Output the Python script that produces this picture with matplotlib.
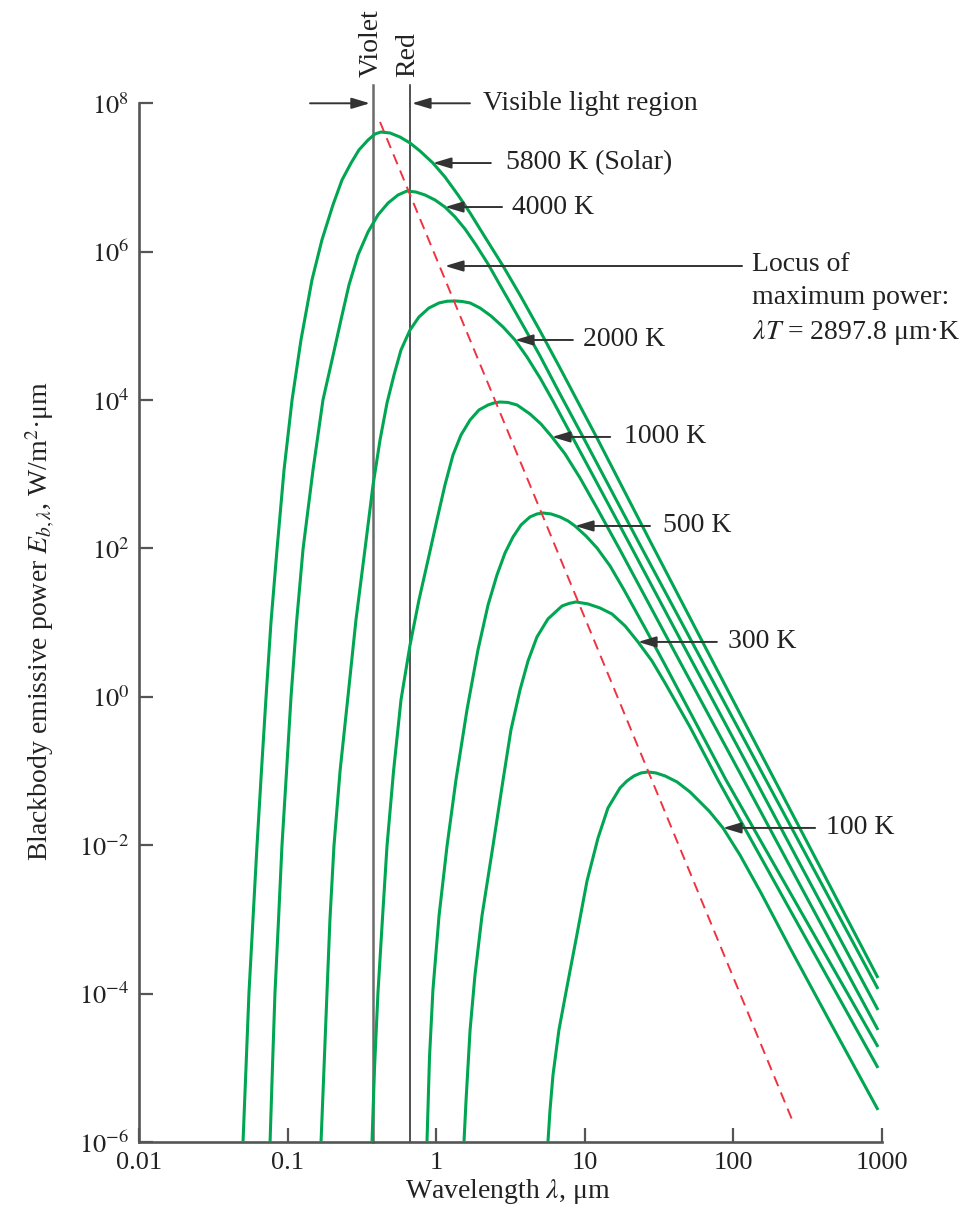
import numpy as np
import matplotlib
matplotlib.use('Agg')
import matplotlib.pyplot as plt

plt.rcParams['font.family'] = ['Liberation Serif', 'DejaVu Serif']
plt.rcParams['mathtext.fontset'] = 'stix'

# log10 of wavelength (um) and log10 of emissive power (W/m2.um)
lx5800 = [-1.300, -1.280, -1.260, -1.233, -1.206, -1.176, -1.145, -1.112, -1.071, -1.024,
          -0.970, -0.910, -0.836, -0.769, -0.695, -0.634, -0.573, -0.520, -0.459, -0.412,
          -0.372, -0.311, -0.244, -0.176, -0.109, -0.022, 0.059, 0.147, 0.228, 0.328,
          0.450, 0.564, 0.699, 0.833, 0.968, 1.082, 1.439, 1.775, 2.179, 2.583, 2.973]
ly5800 = [-6.000, -5.000, -3.991, -3.000, -2.009, -1.000, 0.000, 1.000, 1.993, 3.058,
          4.001, 4.810, 5.619, 6.158, 6.629, 6.966, 7.195, 7.371, 7.505, 7.586,
          7.613, 7.600, 7.546, 7.465, 7.357, 7.195, 7.007, 6.764, 6.522, 6.198,
          5.807, 5.416, 4.931, 4.433, 3.920, 3.489, 2.101, 0.807, -0.743, -2.292, -3.788]

lx4000 = [-1.118, -1.102, -1.085, -1.061, -1.038, -1.007, -0.977, -0.940, -0.896, -0.829,
          -0.762, -0.701, -0.641, -0.587, -0.526, -0.459, -0.392, -0.324, -0.257, -0.197,
          -0.136, -0.075, -0.008, 0.059, 0.127, 0.194, 0.268, 0.349, 0.429, 0.510,
          0.598, 0.699, 0.833, 0.988, 1.372, 1.775, 2.179, 2.583, 2.973]
ly4000 = [-6.000, -5.000, -3.991, -3.000, -2.009, -1.000, 0.000, 1.000, 1.993, 3.058,
          4.001, 4.540, 5.080, 5.551, 5.956, 6.265, 6.495, 6.656, 6.764, 6.818,
          6.804, 6.764, 6.697, 6.602, 6.468, 6.306, 6.090, 5.834, 5.551, 5.268,
          4.958, 4.594, 4.082, 3.503, 2.047, 0.538, -0.972, -2.481, -3.937]

lx2000 = [-0.775, -0.755, -0.735, -0.715, -0.688, -0.647, -0.594, -0.540, -0.479, -0.425,
          -0.378, -0.331, -0.284, -0.237, -0.176, -0.116, -0.049, 0.019, 0.073, 0.127,
          0.174, 0.228, 0.295, 0.369, 0.450, 0.530, 0.611, 0.699, 0.786, 0.880,
          1.237, 1.641, 2.044, 2.448, 2.973]
ly2000 = [-6.000, -5.000, -3.991, -3.000, -2.009, -1.000, 0.000, 1.036, 1.993, 2.856,
          3.462, 3.961, 4.338, 4.675, 4.945, 5.120, 5.241, 5.309, 5.332, 5.336,
          5.329, 5.309, 5.241, 5.133, 4.985, 4.810, 4.581, 4.298, 3.988, 3.637,
          2.303, 0.780, -0.729, -2.252, -4.220]

lx1000 = [-0.432, -0.415, -0.392, -0.362, -0.331, -0.287, -0.237, -0.176, -0.116, -0.055,
          0.005, 0.059, 0.113, 0.167, 0.228, 0.288, 0.349, 0.389, 0.429, 0.483,
          0.544, 0.631, 0.705, 0.779, 0.867, 0.968, 1.089, 1.237, 1.641, 2.044,
          2.448, 2.973]
ly1000 = [-6.000, -5.000, -3.991, -3.000, -2.009, -1.000, -0.042, 0.699, 1.306, 1.845,
          2.384, 2.856, 3.260, 3.530, 3.732, 3.867, 3.934, 3.961, 3.974, 3.968,
          3.934, 3.813, 3.678, 3.503, 3.274, 2.950, 2.519, 1.980, 0.470, -1.026,
          -2.535, -4.489]

lx500 = [-0.062, -0.045, -0.022, 0.019, 0.073, 0.133, 0.207, 0.281, 0.349, 0.409,
         0.463, 0.517, 0.571, 0.631, 0.678, 0.719, 0.773, 0.833, 0.887, 0.934,
         1.008, 1.082, 1.170, 1.264, 1.405, 1.533, 1.950, 2.448, 2.973]
ly500 = [-6.000, -4.853, -3.950, -2.953, -2.009, -1.120, -0.177, 0.632, 1.239, 1.643,
         1.939, 2.155, 2.317, 2.425, 2.465, 2.478, 2.465, 2.425, 2.371, 2.303,
         2.168, 2.007, 1.764, 1.441, 0.929, 0.457, -1.120, -2.872, -4.718]

lx300 = [0.187, 0.201, 0.228, 0.261, 0.308, 0.382, 0.450, 0.503, 0.564, 0.618,
         0.678, 0.752, 0.847, 0.894, 0.941, 1.022, 1.102, 1.183, 1.271, 1.358,
         1.452, 1.540, 1.708, 1.896, 2.381, 2.973]
ly300 = [-6.000, -5.433, -4.489, -3.748, -2.953, -2.009, -1.120, -0.446, 0.093, 0.484,
         0.807, 1.050, 1.225, 1.259, 1.279, 1.252, 1.198, 1.117, 0.956, 0.740,
         0.484, 0.187, -0.406, -1.120, -2.872, -5.001]

lx100 = [0.752, 0.766, 0.786, 0.826, 0.880, 0.948, 1.015, 1.089, 1.156, 1.237,
         1.284, 1.331, 1.378, 1.425, 1.479, 1.540, 1.621, 1.708, 1.836, 1.930,
         2.044, 2.186, 2.381, 2.650, 2.973]
ly100 = [-6.000, -5.567, -5.096, -4.489, -3.910, -3.195, -2.481, -1.902, -1.497, -1.228,
         -1.133, -1.066, -1.026, -1.012, -1.026, -1.066, -1.147, -1.282, -1.538, -1.767,
         -2.131, -2.643, -3.384, -4.381, -5.567]

# locus of maximum power (dashed red line), end points
locus_lx = [-0.378, 2.401]
locus_ly = [7.748, -5.729]

# visible band limits, um
violet_wl = 0.378
red_wl = 0.663

curve_labels = ['5800 K (Solar)', '4000 K', '2000 K', '1000 K', '500 K', '300 K', '100 K']
curves = [(lx5800, ly5800), (lx4000, ly4000), (lx2000, ly2000), (lx1000, ly1000),
          (lx500, ly500), (lx300, ly300), (lx100, ly100)]

# where each label arrow sits (log10 units)
arrow_ly = [7.195, 6.602, 4.810, 3.503, 2.303, 0.740, -1.767]
arrow_tip = [-0.022, 0.059, 0.530, 0.779, 0.934, 1.358, 1.930]
arrow_tail = [0.368, 0.443, 0.920, 1.171, 1.439, 1.889, 2.550]
text_lx = [0.470, 0.510, 0.988, 1.265, 1.526, 1.963, 2.624]

green = '#00a651'
dark = '#333333'
txtcol = '#222222'
axcol = '#555555'
fs = 20

fig = plt.figure(figsize=(9.73, 12.2), dpi=100)
ax = fig.add_axes([139/973, 1-1142/1220, 743/973, 1038.7/1220])
ax.set_xscale('log')
ax.set_yscale('log')
ax.set_xlim(0.01, 1000)
ax.set_ylim(1e-6, 1e8)

for lx, ly in curves:
    ax.plot(10**np.array(lx), 10**np.array(ly), color=green, lw=2.2,
            solid_capstyle='butt', solid_joinstyle='round', zorder=3)

ax.plot(10**np.array(locus_lx), 10**np.array(locus_ly), color='#ef3340', lw=1.4,
        dashes=(5.5, 3.5), zorder=4)

top = 10**8.247
ax.plot([violet_wl, violet_wl], [1e-6, top], color='#6a6a6a', lw=1.8, clip_on=False, zorder=2)
ax.plot([red_wl, red_wl], [1e-6, top], color='#222222', lw=1.1, clip_on=False, zorder=2)
ax.text(10**-0.439, 10**8.354, 'Violet', rotation=90, ha='center', va='bottom',
        fontsize=fs, color=txtcol)
ax.text(10**-0.190, 10**8.354, 'Red', rotation=90, ha='center', va='bottom',
        fontsize=fs, color=txtcol)

aprops = dict(arrowstyle='-|>,head_length=1.1,head_width=0.33', color=dark, lw=1.4,
              shrinkA=0, shrinkB=0, mutation_scale=10)

# visible light arrows
ax.annotate('', xy=(10**-0.446, 1e8), xytext=(10**-0.849, 1e8), arrowprops=aprops,
            annotation_clip=False)
ax.annotate('', xy=(10**-0.163, 1e8), xytext=(10**0.227, 1e8), arrowprops=aprops,
            annotation_clip=False)
ax.text(10**0.314, 1e8, 'Visible light region', ha='left', va='center', fontsize=fs,
        color=txtcol)

for lab, ly, tip, tail, tx in zip(curve_labels, arrow_ly, arrow_tip, arrow_tail, text_lx):
    ax.annotate('', xy=(10**tip, 10**ly), xytext=(10**tail, 10**ly), arrowprops=aprops,
                annotation_clip=False, zorder=5)
    ax.text(10**tx, 10**ly, lab, ha='left', va='center', fontsize=fs, color=txtcol)

# locus label
ax.annotate('', xy=(10**0.059, 10**5.807), xytext=(10**2.058, 10**5.807),
            arrowprops=aprops, annotation_clip=False, zorder=5)
ax.text(10**2.125, 10**5.834, 'Locus of', ha='left', va='center', fontsize=fs, color=txtcol)
ax.text(10**2.125, 10**5.376, 'maximum power:', ha='left', va='center', fontsize=fs,
        color=txtcol)
ax.text(10**2.125, 10**4.917, '$\\lambda T$ = 2897.8 μm·K', ha='left', va='center',
        fontsize=fs, color=txtcol)

for s in ['top', 'right']:
    ax.spines[s].set_visible(False)
for s in ['left', 'bottom']:
    ax.spines[s].set_color(axcol)
    ax.spines[s].set_linewidth(1.9)

ax.set_xticks([0.01, 0.1, 1, 10, 100, 1000])
ax.set_xticklabels(['0.01', '0.1', '1', '10', '100', '1000'])
ax.set_yticks([1e-6, 1e-4, 1e-2, 1, 1e2, 1e4, 1e6, 1e8])
ax.set_yticklabels(['$10^{-6}$', '$10^{-4}$', '$10^{-2}$', '$10^{0}$', '$10^{2}$',
                    '$10^{4}$', '$10^{6}$', '$10^{8}$'])
ax.xaxis.set_minor_locator(matplotlib.ticker.NullLocator())
ax.yaxis.set_minor_locator(matplotlib.ticker.NullLocator())
ax.tick_params(direction='in', length=10, width=1.6, color=axcol, labelsize=19,
               labelcolor=txtcol)
ax.tick_params(axis='y', pad=7)
ax.tick_params(axis='x', pad=7)

fig.text(40/973, 1-621/1220, 'Blackbody emissive power $E_{b,\\lambda}$, W/m$^2$·μm',
         rotation=90, ha='center', va='center', fontsize=fs, color=txtcol)
fig.text(508/973, 1-1192/1220, 'Wavelength $\\lambda$, μm', ha='center', va='center',
         fontsize=fs, color=txtcol)

fig.savefig('out.png', dpi=100)
